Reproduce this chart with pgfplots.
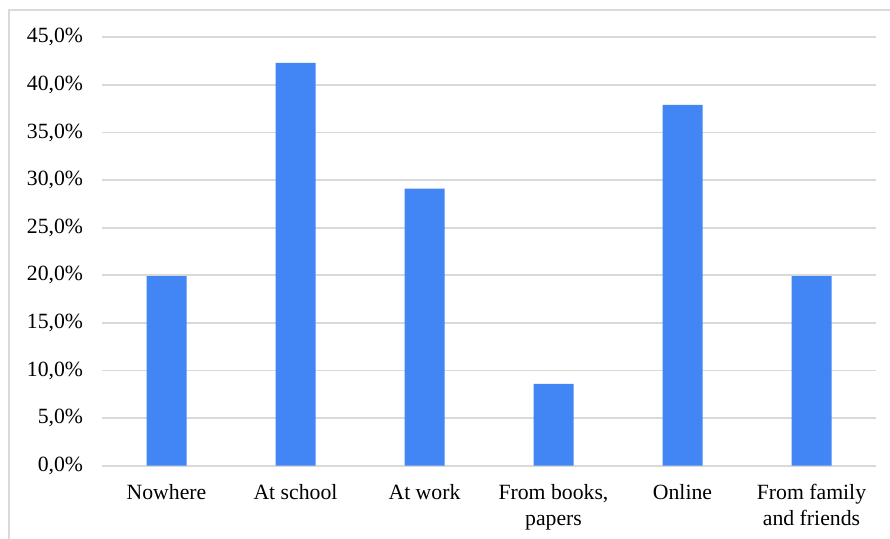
\documentclass[border=0pt]{standalone}
\usepackage{pgfplots}
\pgfplotsset{compat=1.18}
\usepackage{fontspec}
\setmainfont{Liberation Serif}

\definecolor{barblue}{HTML}{4285F4}
\definecolor{gridgray}{HTML}{D9D9D9}

\begin{document}
\begin{tikzpicture}[x=0.75pt,y=0.75pt]
  % canvas: 890 x 539 units
  \clip (0,0) rectangle (890,539);
  \useasboundingbox (0,0) rectangle (890,539);
  \fill[white] (0,0) rectangle (890,539);
  % chart frame
  \draw[gridgray, line width=1.5pt] (9,-20) rectangle (910,529);

  \begin{axis}[
    at={(76.5pt,55pt)}, anchor=south west,
    scale only axis,
    width=580.5pt, height=321.3pt,
    xmin=-0.5, xmax=5.5,
    ymin=0, ymax=45,
    axis line style={draw=none},
    major tick length=0pt,
    ytick={0,5,...,45},
    ymajorgrids,
    grid style={gridgray, line width=1.3pt},
    xtick=data,
    xticklabels={Nowhere, At school, At work, {From books,\\papers}, Online, {From family\\and friends}},
    xticklabel style={align=center, anchor=north, inner sep=0pt, yshift=-14pt,
      font=\fontsize{16.3}{19.5}\selectfont},
    yticklabel style={anchor=east, inner sep=0pt, xshift=-14pt,
      font=\fontsize{16.3}{18}\selectfont},
    /pgf/number format/assume math mode=true,
    yticklabel={\pgfmathprintnumber[fixed,fixed zerofill,precision=1,use comma]{\tick}\%},
    clip=false,
  ]
    \addplot[ybar, bar width=30pt, fill=barblue, draw=none]
      coordinates {(0,19.9) (1,42.3) (2,29.1) (3,8.6) (4,37.9) (5,19.9)};
  \end{axis}
\end{tikzpicture}
\end{document}
